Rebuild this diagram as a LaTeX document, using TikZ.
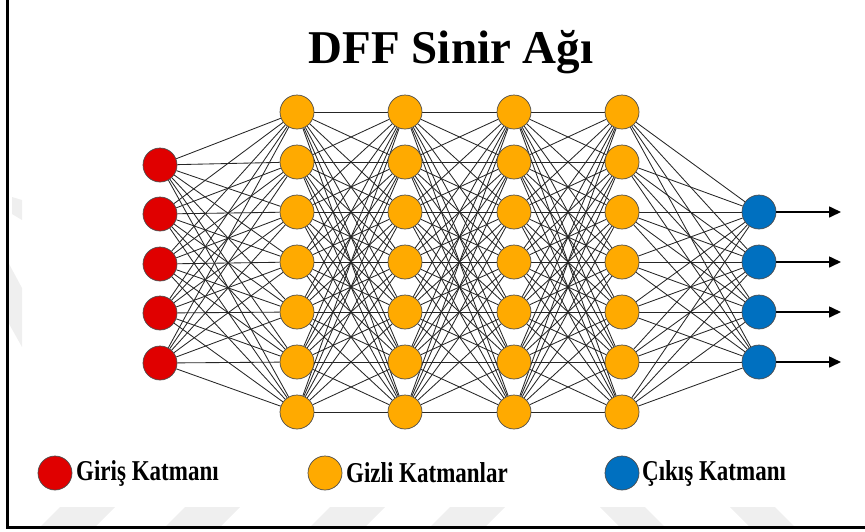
\documentclass[tikz,border=0pt]{standalone}
\usepackage{fontspec}
\setmainfont{Liberation Serif}
\usetikzlibrary{arrows.meta,backgrounds}
\definecolor{inred}{HTML}{E00000}
\definecolor{hidorange}{HTML}{FFAA00}
\definecolor{outblue}{HTML}{0070C0}
\definecolor{wmark}{HTML}{EFEFEF}
\newcommand{\tallbold}[1]{\scalebox{1}[1.25]{#1}}
\begin{document}
\begin{tikzpicture}[x=1pt,y=-1pt,
  neuron/.style={circle, draw=black!70, line width=0.7pt, minimum size=34pt, inner sep=0pt},
  link/.style={draw=black!85, line width=0.85pt},
  outarrow/.style={draw=black, line width=1.6pt, -{Triangle[length=12pt,width=11pt]}},
  legendtext/.style={anchor=west, inner sep=0pt, font=\bfseries\fontsize{23}{25}\selectfont},
  framerule/.style={draw=black, line width=2.5pt}]
\useasboundingbox (0,0) rectangle (865,531);

% faint background marks
\fill[wmark] (8,262) -- (22,288) -- (22,347) -- (8,322) -- cycle;
\fill[wmark] (12,197) -- (22,200) -- (22,220) -- (12,214) -- cycle;
\foreach \xa in {60,185,330,450}
  \fill[wmark] (\xa,507) -- (\xa+55,507) -- (\xa+35,527) -- (\xa-20,527) -- cycle;
\foreach \xa in {600,730}
  \fill[wmark] (\xa,507) -- (\xa+45,507) -- (\xa+65,527) -- (\xa+20,527) -- cycle;

% frame
\draw[framerule] (7.5,-2) -- (7.5,527.5) -- (867,527.5);

% title
\node[font=\bfseries\fontsize{47}{50}\selectfont] (title) at (451,52) {DFF Sinir Ağı};

% input layer
\foreach \i/\yy in {1/165,2/214,3/264,4/313,5/363}
  \node[neuron, fill=inred] (i\i) at (160,\yy) {};

% hidden layers
\foreach \l/\xx in {1/297,2/405,3/514,4/622}
  \foreach \j in {1,...,7}
    \node[neuron, fill=hidorange] (h\l-\j) at (\xx,{62+50*\j}) {};

% output layer
\foreach \k in {1,...,4} {
  \node[neuron, fill=outblue] (o\k) at (759,{162+50*\k}) {};
  \coordinate (t\k) at (841,{162+50*\k});
  \draw[outarrow] (o\k) -- (t\k);
}

% connections
\begin{scope}[on background layer]
  \foreach \a in {1,...,5}
    \foreach \b in {1,...,7}
      \draw[link] (i\a) -- (h1-\b);
  \foreach \l [evaluate=\l as \n using int(\l+1)] in {1,2,3}
    \foreach \a in {1,...,7}
      \foreach \b in {1,...,7}
        \draw[link] (h\l-\a) -- (h\n-\b);
  \foreach \a in {1,...,7}
    \foreach \b in {1,...,4}
      \draw[link] (h4-\a) -- (o\b);
\end{scope}

% legend
\node[neuron, fill=inred] (lgin) at (55,473) {};
\node[legendtext] (lgintext) at (76,473) {\tallbold{Giriş Katmanı}};
\node[neuron, fill=hidorange] (lghid) at (325,473) {};
\node[legendtext] (lghidtext) at (346,473) {\tallbold{Gizli Katmanlar}};
\node[neuron, fill=outblue] (lgout) at (622,473) {};
\node[legendtext] (lgouttext) at (642,473) {\tallbold{Çıkış Katmanı}};
\end{tikzpicture}
\end{document}
